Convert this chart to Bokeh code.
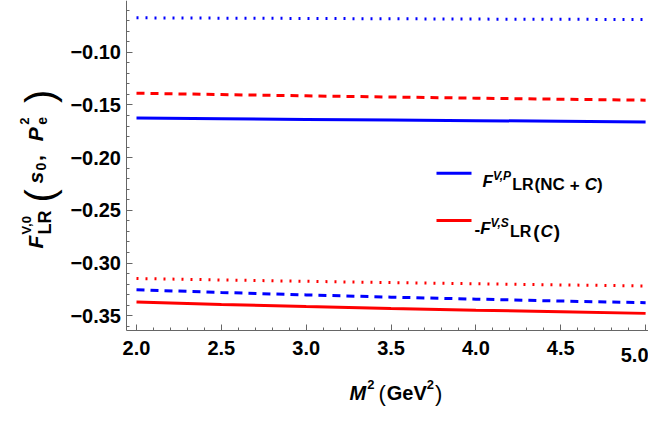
import math
from bokeh.plotting import figure
from bokeh.models import FixedTicker, Label, BoxAnnotation, Range1d, LinearAxis
from bokeh.embed import file_html
from bokeh.resources import INLINE

# ---------------- data ----------------
x_vals = [2.0, 2.5, 3.0, 3.5, 4.0, 4.5, 5.0]
blue_solid = [-0.1625, -0.1632, -0.1638, -0.1644, -0.1649, -0.1655, -0.1661]
blue_dashed = [-0.3253, -0.3279, -0.3302, -0.3323, -0.3342, -0.3360, -0.3376]
blue_dotted = [-0.0674, -0.0677, -0.0680, -0.0683, -0.0686, -0.0688, -0.0690]
red_solid = [-0.3370, -0.3392, -0.3412, -0.3430, -0.3447, -0.3462, -0.3477]
red_dashed = [-0.1389, -0.1402, -0.1414, -0.1425, -0.1436, -0.1446, -0.1455]
red_dotted = [-0.3146, -0.3160, -0.3173, -0.3185, -0.3196, -0.3207, -0.3217]

x_ticks = [2.0, 2.5, 3.0, 3.5, 4.0, 4.5, 5.0]
x_tick_labels = ["2.0", "2.5", "3.0", "3.5", "4.0", "4.5", "5.0"]
y_ticks = [-0.35, -0.30, -0.25, -0.20, -0.15, -0.10]
y_tick_labels = ["\u22120.35", "\u22120.30", "\u22120.25", "\u22120.20", "\u22120.15", "\u22120.10"]

BLUE = "#0000ff"
RED = "#ff0000"
AXIS = "#666666"
FONT = "Liberation Sans"
TICK_FS = "20px"

# canvas geometry (pixels)
W, H = 648, 407
PX_X = 169.7          # px per x unit
PX_Y = 1054.4         # px per y unit
X2_PIX = 136.0        # canvas x of x = 2.0
Y10_PIX = 51.7        # canvas y of y = -0.10
AX_X_PIX = 125.5      # canvas x of the vertical axis
AX_Y_PIX = 330.0      # canvas y of the horizontal axis

x_lo = 2.0 - X2_PIX / PX_X
x_hi = 2.0 + (W - X2_PIX) / PX_X
y_hi = -0.10 + Y10_PIX / PX_Y
y_lo = -0.10 - (H - Y10_PIX) / PX_Y
x_axis_at = 2.0 - (X2_PIX - AX_X_PIX) / PX_X
y_axis_at = -0.10 - (AX_Y_PIX - Y10_PIX) / PX_Y

p = figure(width=W, height=H, output_backend="svg", toolbar_location=None,
           x_range=Range1d(x_lo, x_hi), y_range=Range1d(y_lo, y_hi),
           x_axis_location=None, y_axis_location=None,
           min_border=0, background_fill_color="white",
           border_fill_color="white")
p.outline_line_color = None
p.grid.visible = False

x_minor = [round(2.0 + 0.1 * i, 2) for i in range(31)]
y_minor = [round(-0.36 + 0.01 * i, 3) for i in range(31)]

xo = {t: l for t, l in zip(x_ticks, x_tick_labels)}
xo[x_ticks[-1]] = ""
xaxis = LinearAxis(ticker=FixedTicker(ticks=x_ticks, minor_ticks=x_minor),
                   fixed_location=y_axis_at, bounds=(x_axis_at, x_hi),
                   major_label_overrides=xo)
yaxis = LinearAxis(ticker=FixedTicker(ticks=y_ticks, minor_ticks=y_minor),
                   fixed_location=x_axis_at, bounds=(y_axis_at, y_hi),
                   major_label_overrides={t: l for t, l in zip(y_ticks, y_tick_labels)})
for ax in (xaxis, yaxis):
    ax.axis_line_color = AXIS
    ax.axis_line_width = 1
    ax.major_tick_line_color = AXIS
    ax.minor_tick_line_color = AXIS
    ax.major_tick_in = 6
    ax.major_tick_out = 0
    ax.minor_tick_in = 3
    ax.minor_tick_out = 0
    ax.major_label_text_font = FONT
    ax.major_label_text_font_style = "bold"
    ax.major_label_text_font_size = TICK_FS
    ax.major_label_text_color = "black"
yaxis.major_label_standoff = 5
xaxis.major_label_standoff = 10
p.add_layout(xaxis, "below")
p.add_layout(yaxis, "left")

# ---------------- curves ----------------
p.line(x_vals, blue_dotted, color=BLUE, line_width=3, line_dash="2 7")
p.line(x_vals, red_dashed, color=RED, line_width=3, line_dash="8 6")
p.line(x_vals, blue_solid, color=BLUE, line_width=3)
p.line(x_vals, red_dotted, color=RED, line_width=3, line_dash="2 7")
p.line(x_vals, blue_dashed, color=BLUE, line_width=3, line_dash="8 6")
p.line(x_vals, red_solid, color=RED, line_width=3)

# last x tick label, kept inside the canvas
p.add_layout(Label(x=W, y=H - 354, x_units="screen", y_units="screen", text=x_tick_labels[-1],
                   text_font=FONT, text_font_style="bold", text_font_size=TICK_FS,
                   text_color="black", text_align="right", text_baseline="alphabetic"))

# ---------------- rich text helper ----------------
WT = {' ': 278, '(': 333, ')': 333, '+': 584, ',': 278, '-': 333, '.': 278,
      '0': 556, '2': 556, 'C': 722, 'F': 611, 'G': 778, 'L': 611, 'M': 833,
      'N': 722, 'P': 667, 'R': 722, 'S': 667, 'V': 667, 'e': 556, 's': 556}


def text_w(s, size):
    return sum(WT.get(ch, 600) for ch in s) / 1000.0 * size


def rich(pieces, x0, y0, vertical=False, spread=1.0):
    """pieces: (text, size, style, baseline shift up, advance flag / extra gap)"""
    pos = 0.0
    for text, size, style, shift, adv in pieces:
        if vertical:
            sx, sy, ang = x0 - shift, H - (y0 - pos), math.pi / 2
        else:
            sx, sy, ang = x0 + pos, H - (y0 - shift), 0.0
        p.add_layout(Label(x=sx, y=sy, x_units="screen", y_units="screen", text=text,
                           angle=ang, text_font=FONT, text_font_size=f"{size}px",
                           text_font_style=style, text_color="black",
                           text_align="left", text_baseline="alphabetic"))
        if adv is not False:
            pos += (text_w(text, size) + (0 if adv is True else adv)) * spread


# y-axis title  F^{V,0}_{LR}(s0, Pe^2)
rich([
    ("F", 21, "bold italic", 0, True),
    ("V,0", 13, "bold", 9, False),
    ("LR", 18, "bold", -9, 5),
    ("(", 40, "normal", -4, 4),
    ("s", 21, "bold italic", 0, True),
    ("0", 14, "bold", -5, 1),
    (",", 21, "bold", 0, 12),
    ("P", 21, "bold italic", 0, 1),
    ("2", 13, "bold", 11, False),
    ("e", 14, "bold", -6, 12),
    (")", 40, "normal", -4, True),
], 35, 248, vertical=True, spread=1.1)

# x-axis title  M^2 (GeV^2)
rich([
    ("M", 20, "bold italic", 0, 1),
    ("2", 13, "bold", 8, 4),
    ("(", 22, "normal", -1, 1),
    ("GeV", 20, "bold", 0, True),
    ("2", 13, "bold", 8, 1),
    (")", 22, "normal", -1, True),
], 349, 392)

# legend
for yc, col in ((172.7, BLUE), (220.0, RED)):
    p.add_layout(BoxAnnotation(left=436, right=471, bottom=H - yc - 1.5, top=H - yc + 1.5,
                               left_units="screen", right_units="screen",
                               bottom_units="screen", top_units="screen",
                               fill_color=col, fill_alpha=1.0, line_color=None))
rich([
    ("F", 17, "bold italic", 0, True),
    ("V,P", 12, "bold italic", 6, True),
    ("LR", 16, "bold", -3, 1),
    ("(NC", 17, "bold", -3, 5),
    ("+", 17, "bold", -3, 5),
    ("C", 17, "bold italic", -3, True),
    (")", 17, "bold", -3, True),
], 482, 181)
rich([
    ("-", 17, "bold", 0, True),
    ("F", 17, "bold italic", 0, True),
    ("V,S", 12, "bold italic", 6, True),
    ("LR", 16, "bold", -3, 2),
    ("(", 19, "bold", -3, 1),
    ("C", 17, "bold italic", -3, 1),
    (")", 19, "bold", -3, True),
], 474, 228)

open("out.html", "w").write(file_html(p, INLINE))
